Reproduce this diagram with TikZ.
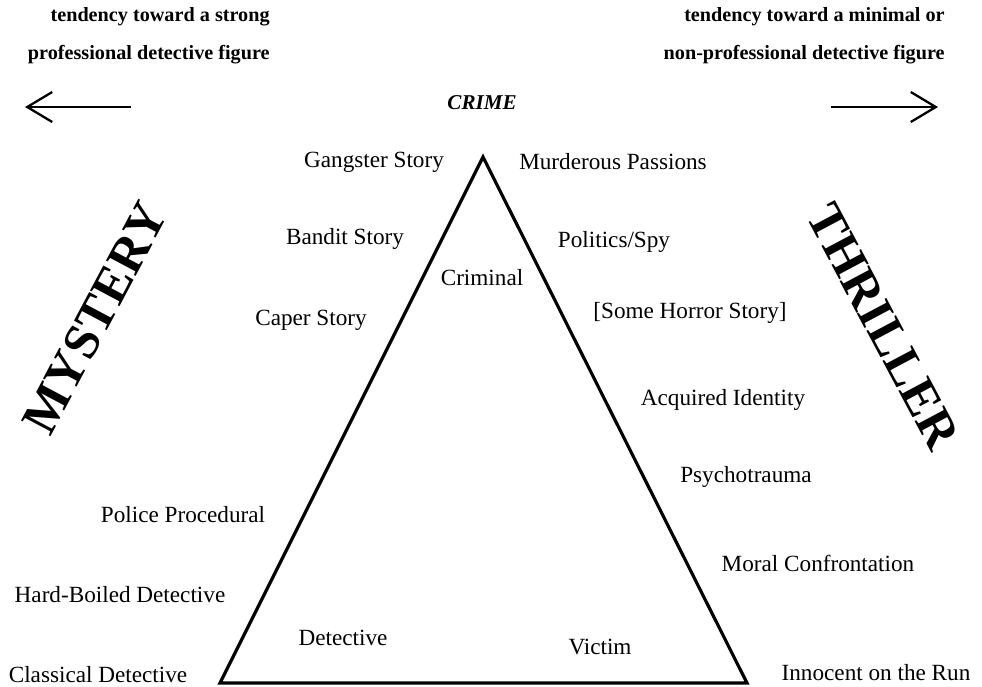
\documentclass[tikz,border=0pt]{standalone}
\usepackage{fontspec}
\setmainfont{Liberation Serif}
\usetikzlibrary{arrows.meta}

\begin{document}
\begin{tikzpicture}[x=0.02cm, y=-0.02cm,
		genre/.style={inner sep=0pt, font=\fontsize{13.2}{15}\selectfont},
		tendency/.style={inner sep=0pt, anchor=east, align=right, font=\bfseries\fontsize{11.5}{21.5}\selectfont},
		bigword/.style={inner sep=0pt, font=\bfseries\fontsize{29}{32}\selectfont},
		trend/.style={line width=1.3pt, -{Straight Barb[length=0.5cm, width=0.6cm]}}]
		%%%%% START %%%%%
		
		\useasboundingbox (0, 0) rectangle (982, 686);
		
		\node[tendency] (strongtxt) at (270, 36) {tendency toward a strong\\professional detective figure};
		\node[tendency] (minimaltxt) at (945, 36) {tendency toward a minimal or\\non-professional detective figure};
		
		\coordinate (lefttail) at (131, 107);
		\coordinate (lefttip) at (25, 107);
		\coordinate (righttail) at (831, 107);
		\coordinate (righttip) at (938, 107);
		\draw[trend] (lefttail) -- (lefttip);
		\draw[trend] (righttail) -- (righttip);
		
		\node[inner sep=0pt, font=\bfseries\itshape\fontsize{12}{14}\selectfont] (crime) at (482, 103) {CRIME};
		
		\coordinate (apex) at (483, 157);
		\coordinate (southwest) at (220, 683);
		\coordinate (southeast) at (747, 683);
		\draw[line width=1.8pt, line join=miter] (apex) -- (southwest) -- (southeast) -- cycle;
		
		\node[genre] (criminal) at (482, 278) {Criminal};
		\node[genre] (detective) at (343, 638) {Detective};
		\node[genre] (victim) at (600, 647) {Victim};
		
		\node[bigword, rotate=62] (mystery) at (95, 318) {MYSTERY};
		\node[bigword, rotate=-62] (thriller) at (883, 326) {THRILLER};
		
		\node[genre] (gangster) at (374, 162) {Gangster Story};
		\node[genre] (bandit) at (345, 239) {Bandit Story};
		\node[genre] (caper) at (311, 320) {Caper Story};
		\node[genre] (police) at (183, 515) {Police Procedural};
		\node[genre] (hardboiled) at (120, 595) {Hard-Boiled Detective};
		\node[genre] (classical) at (98, 675) {Classical Detective};
		
		\node[genre] (passions) at (613, 162) {Murderous Passions};
		\node[genre] (spy) at (614, 242) {Politics/Spy};
		\node[genre] (horror) at (690, 313) {[Some Horror Story]};
		\node[genre] (identity) at (723, 400) {Acquired Identity};
		\node[genre] (trauma) at (746, 477) {Psychotrauma};
		\node[genre] (moral) at (818, 563) {Moral Confrontation};
		\node[genre] (innocent) at (876, 673) {Innocent on the Run};
		
		%%%%% END %%%%%
	\end{tikzpicture}
\end{document}
